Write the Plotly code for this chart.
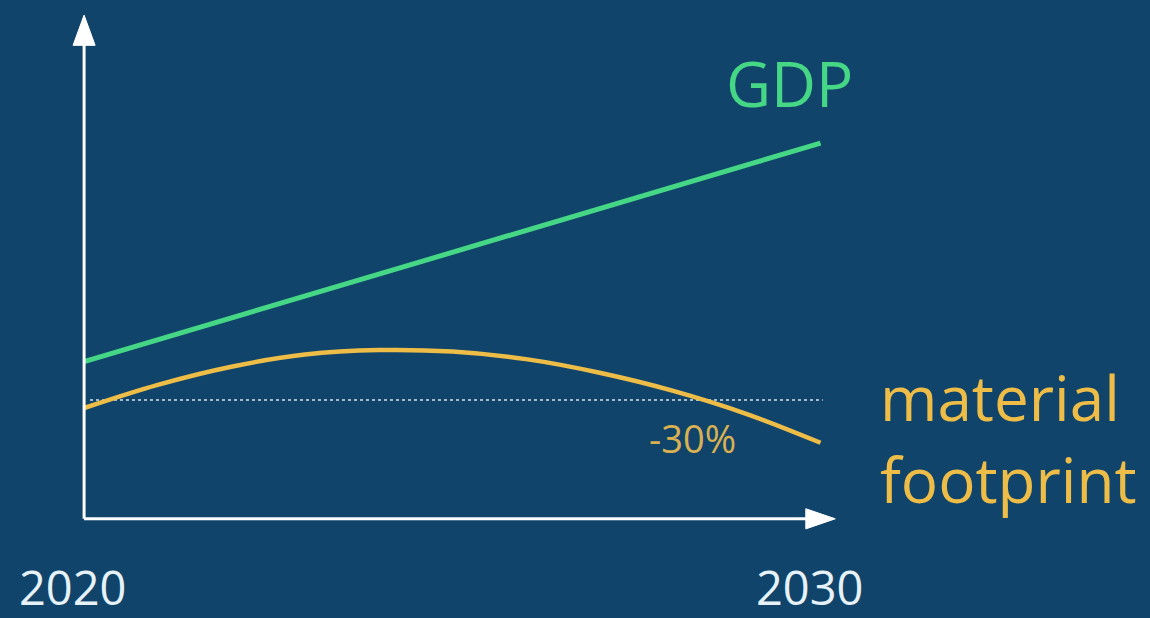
import plotly.graph_objects as go

# Data (index units, arbitrary)
years = [2020, 2021, 2022, 2023, 2024, 2025, 2026, 2027, 2028, 2029, 2030]
gdp = [31.2, None, None, None, None, None, None, None, None, None, 74.6]
material = [22.0, 26.6, 30.2, 32.6, 33.5, 33.2, 31.7, 29.0, 25.4, 20.8, 15.1]
reference_level = 23.6
tick_labels = ["2020", "2030"]

BG = "#10446A"
GREEN = "#45D785"
GOLD = "#EDBD48"
WHITE = "#FFFFFF"
FONT = "Open Sans"

L, R, T, B = 62, 300, 0, 74
PW, PH = 1150 - L - R, 618 - T - B


def px(xp):
    return (xp - L) / PW


def py(yp):
    return (618 - B - yp) / PH


gdp_x = [y for y, v in zip(years, gdp) if v is not None]
gdp_y = [v for v in gdp if v is not None]

fig = go.Figure()
fig.add_trace(go.Scatter(x=[years[0] + 0.08, years[-1] + 0.03],
                         y=[reference_level, reference_level], mode="lines",
                         line=dict(color="#D8E4EE", width=1.5, dash="dot"),
                         hoverinfo="skip", showlegend=False))
fig.add_trace(go.Scatter(x=gdp_x, y=gdp_y, mode="lines",
                         line=dict(color=GREEN, width=5), showlegend=False))
fig.add_trace(go.Scatter(x=years, y=material, mode="lines",
                         line=dict(color=GOLD, width=4.5, shape="spline", smoothing=1.0),
                         showlegend=False))

# axes (drawn as shapes with arrowheads)
shapes = [
    dict(type="line", xref="x", yref="y", x0=2020, x1=2020, y0=0, y1=95,
         line=dict(color=WHITE, width=3)),
    dict(type="path", xref="x", yref="y", path="M 2019.85 94 L 2020 100 L 2020.15 94 Z",
         fillcolor=WHITE, line=dict(color=WHITE, width=1)),
    dict(type="line", xref="x", yref="y", x0=2020, x1=2029.85, y0=0, y1=0,
         line=dict(color=WHITE, width=3)),
    dict(type="path", xref="x", yref="y", path="M 2029.8 2.0 L 2030.2 0 L 2029.8 -2.0 Z",
         fillcolor=WHITE, line=dict(color=WHITE, width=1)),
]

annotations = [
    dict(x=px(789), y=py(83), xref="paper", yref="paper", text="GDP", showarrow=False,
         font=dict(family=FONT, size=62, color=GREEN), xanchor="center", yanchor="middle"),
    dict(x=px(878), y=py(397), xref="paper", yref="paper", text="material", showarrow=False,
         font=dict(family=FONT, size=62, color=GOLD), xanchor="left", yanchor="middle"),
    dict(x=px(878), y=py(479), xref="paper", yref="paper", text="footprint", showarrow=False,
         font=dict(family=FONT, size=62, color=GOLD), xanchor="left", yanchor="middle"),
    dict(x=px(692), y=py(438), xref="paper", yref="paper", text="-30%", showarrow=False,
         font=dict(family=FONT, size=38, color="#D9B152"), xanchor="center", yanchor="middle"),
    dict(x=px(73), y=py(587), xref="paper", yref="paper", text=tick_labels[0], showarrow=False,
         font=dict(family=FONT, size=47, color="#E6F2F8"), xanchor="center", yanchor="middle"),
    dict(x=px(810), y=py(587), xref="paper", yref="paper", text=tick_labels[1], showarrow=False,
         font=dict(family=FONT, size=47, color="#E6F2F8"), xanchor="center", yanchor="middle"),
]

fig.update_layout(
    width=1150, height=618,
    margin=dict(l=L, r=R, t=T, b=B),
    paper_bgcolor=BG, plot_bgcolor=BG,
    xaxis=dict(range=[2019.7, 2030.4], visible=False, fixedrange=True),
    yaxis=dict(range=[-5, 103], visible=False, fixedrange=True),
    shapes=shapes, annotations=annotations, showlegend=False,
)

fig.write_html(
    "out.html",
    config={"displayModeBar": False},
    post_script="document.body.style.margin='0';document.body.style.background='#10446A';"
                "document.body.style.overflow='hidden';",
)
